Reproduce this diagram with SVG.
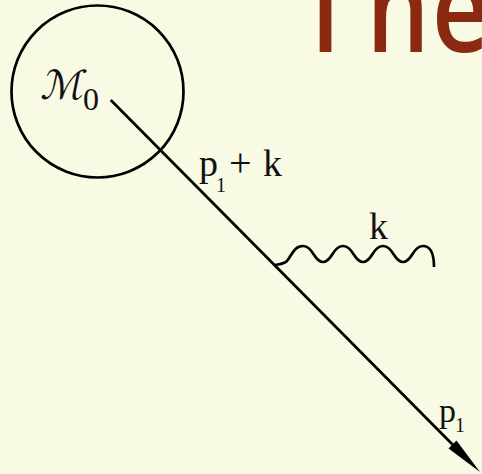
<svg xmlns="http://www.w3.org/2000/svg" width="482" height="474" viewBox="0 0 482 474">
<style>
.ln{fill:none;stroke:#000;stroke-width:2.7}
.lbl{font-family:"Liberation Serif",serif;fill:#111}
.title{font-family:"Open Sans",sans-serif;font-weight:600;fill:#8b2a10}
</style>
<rect width="482" height="474" fill="#f8fae4"/>
<text class="title" transform="translate(0,52) scale(0.8,1)" font-size="124"><tspan x="372">T</tspan><tspan x="458">h</tspan><tspan x="540">e</tspan></text>
<g id="blob">
<circle class="ln" cx="97.5" cy="91.5" r="86"/>
<text transform="translate(40,99) skewX(-12)" font-family="DejaVu Sans,sans-serif" font-size="40" fill="#111">ℳ</text>
<text class="lbl" x="83" y="110" font-size="32">0</text>
</g>
<g id="connectors">
<path class="ln" d="M110.7,100 L456,448"/>
<polygon points="480,472 456.5,440.5 448.5,448.5" fill="#000"/>
<path class="ln" stroke-width="3.2" d="M275,265 C280,264 284,264 287,261 C292,255 294,246 303,246 C313,246 314,262 323,262 C332,262 333,246 343,246 C353,246 354,262 363,262 C372,262 373,246 383,246 C393,246 394,262 403,262 C412,262 413,246 423,246 C431,246 434,254 434,267"/>
</g>
<g id="labels">
<text class="lbl" x="199" y="176" font-size="38">p</text>
<text class="lbl" x="216" y="192" font-size="20">1</text>
<text class="lbl" x="229" y="176" font-size="40">+</text>
<text class="lbl" x="263" y="176" font-size="38">k</text>
<text class="lbl" x="369" y="239" font-size="38">k</text>
<text class="lbl" x="439" y="422" font-size="34">p</text>
<text class="lbl" x="455" y="432" font-size="20">1</text>
</g>
</svg>
